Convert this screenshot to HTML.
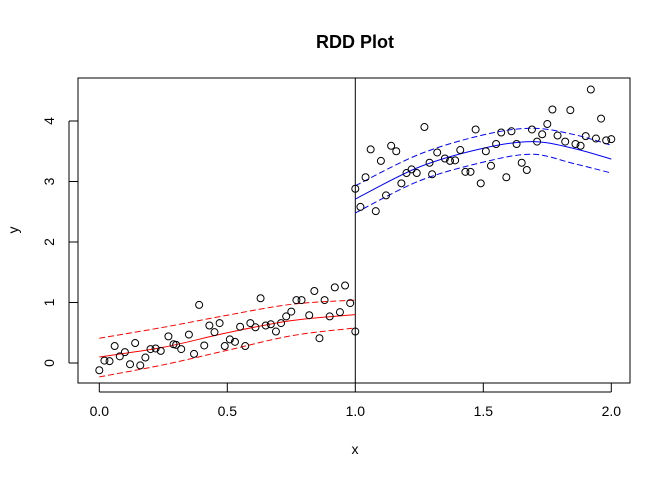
<!DOCTYPE html>
<html><head><meta charset="utf-8"><style>
body{margin:0;background:#fff;}
svg text{font-family:"Liberation Sans",Arial,sans-serif;}
</style></head><body>
<svg id="chart" width="672" height="480" xmlns="http://www.w3.org/2000/svg">
<text x="355" y="48" text-anchor="middle" font-size="18" font-weight="bold">RDD Plot</text>
<text x="355" y="454" text-anchor="middle" font-size="14">x</text>
<text transform="translate(18,230) rotate(-90)" text-anchor="middle" font-size="14">y</text>
<rect x="78" y="78" width="552" height="305" fill="none" stroke="#000" stroke-width="1"/>
<g id="axes"></g><g id="marks"></g>
</svg>
<script>
const xTicks=[0,0.5,1,1.5,2];
const xTickLabels=["0.0","0.5","1.0","1.5","2.0"];
const yTicks=[0,1,2,3,4];
const yTickLabels=["0","1","2","3","4"];
const leftX=[0,0.02,0.04,0.06,0.08,0.10,0.12,0.14,0.16,0.18,0.20,0.22,0.24,0.27,0.29,0.30,0.32,0.35,0.37,0.39,0.41,0.43,0.45,0.47,0.49,0.51,0.53,0.55,0.57,0.59,0.61,0.63,0.65,0.67,0.69,0.71,0.73,0.75,0.77,0.79,0.82,0.84,0.86,0.88,0.90,0.92,0.94,0.96,0.98,1.00];
const leftY=[-0.12,0.04,0.03,0.28,0.11,0.18,-0.02,0.33,-0.04,0.09,0.23,0.24,0.20,0.44,0.31,0.30,0.23,0.47,0.15,0.96,0.29,0.62,0.51,0.66,0.28,0.39,0.35,0.60,0.28,0.66,0.59,1.07,0.62,0.64,0.52,0.66,0.77,0.85,1.04,1.04,0.79,1.19,0.41,1.04,0.77,1.25,0.84,1.28,0.99,0.52];
const rightX=[1.00,1.02,1.04,1.06,1.08,1.10,1.12,1.14,1.16,1.18,1.20,1.22,1.24,1.27,1.29,1.30,1.32,1.35,1.37,1.39,1.41,1.43,1.45,1.47,1.49,1.51,1.53,1.55,1.57,1.59,1.61,1.63,1.65,1.67,1.69,1.71,1.73,1.75,1.77,1.79,1.82,1.84,1.86,1.88,1.90,1.92,1.94,1.96,1.98,2.00];
const rightY=[2.88,2.58,3.07,3.53,2.51,3.34,2.77,3.59,3.50,2.97,3.14,3.20,3.14,3.90,3.31,3.12,3.48,3.38,3.34,3.35,3.52,3.16,3.16,3.86,2.97,3.50,3.26,3.62,3.81,3.07,3.83,3.62,3.31,3.19,3.86,3.66,3.78,3.95,4.19,3.76,3.66,4.18,3.62,3.59,3.75,4.52,3.71,4.04,3.68,3.70];
const redFitX=[0,0.25,0.5,0.75,1];
const redFit=[0.10,0.26,0.50,0.70,0.80];
const redUpper=[0.41,0.59,0.79,0.97,1.04];
const redLower=[-0.23,-0.03,0.21,0.45,0.58];
const blueFitX=[1,1.25,1.5,1.69,1.85,2];
const blueFit=[2.71,3.24,3.55,3.66,3.55,3.37];
const blueUpper=[2.93,3.45,3.77,3.88,3.78,3.60];
const blueLower=[2.48,3.01,3.32,3.45,3.30,3.14];

const NS="http://www.w3.org/2000/svg";
const sx=v=>99.3+v*256;
const sy=v=>363-v*60.5;
const axes=document.getElementById('axes'), marks=document.getElementById('marks');
function mk(tag,attrs,parent){const e=document.createElementNS(NS,tag);for(const k in attrs)e.setAttribute(k,attrs[k]);parent.appendChild(e);return e;}
let xl=mk('line',{x1:sx(xTicks[0]),x2:sx(xTicks[xTicks.length-1]),y1:392,y2:392,stroke:'#000'},axes);


xTicks.forEach((t,i)=>{
 const l=mk('line',{x1:sx(t),x2:sx(t),y1:383,y2:392,stroke:'#000'},axes);
 
 
 const tx=mk('text',{x:sx(t),y:416,'text-anchor':'middle','font-size':'14'},axes);
 tx.textContent=xTickLabels[i];
 
 
});
let yl=mk('line',{x1:69,x2:69,y1:sy(yTicks[0]),y2:sy(yTicks[yTicks.length-1]),stroke:'#000'},axes);


yTicks.forEach((t,i)=>{
 const l=mk('line',{x1:69,x2:78,y1:sy(t),y2:sy(t),stroke:'#000'},axes);
 
 
 const tx=mk('text',{transform:`translate(54,${sy(t)}) rotate(-90)`,'text-anchor':'middle','font-size':'14'},axes);
 tx.textContent=yTickLabels[i];
 
 
});
const cut=mk('line',{x1:sx(1),x2:sx(1),y1:78,y2:383,stroke:'#000'},axes);


function smooth(xs,ys){
 const p=xs.map((x,i)=>[sx(x),sy(ys[i])]);
 let d=`M${p[0][0]},${p[0][1]}`;
 for(let i=0;i<p.length-1;i++){
  const p0=p[i-1]||p[i],p1=p[i],p2=p[i+1],p3=p[i+2]||p2;
  const c1=[p1[0]+(p2[0]-p0[0])/6,p1[1]+(p2[1]-p0[1])/6];
  const c2=[p2[0]-(p3[0]-p1[0])/6,p2[1]-(p3[1]-p1[1])/6];
  d+=` C${c1[0]},${c1[1]} ${c2[0]},${c2[1]} ${p2[0]},${p2[1]}`;
 }
 return d;
}
function curve(xs,ys,color,dash,name){
 const a={d:smooth(xs,ys),fill:'none',stroke:color,'stroke-width':1};
 if(dash)a['stroke-dasharray']='6,3';
 const e=mk('path',a,marks);
 
 
}
curve(redFitX,redFit,'#ff0000',false,'left-fit-line');
curve(redFitX,redUpper,'#ff0000',true,'left-upper-ci');
curve(redFitX,redLower,'#ff0000',true,'left-lower-ci');
curve(blueFitX,blueFit,'#0000ff',false,'right-fit-line');
curve(blueFitX,blueUpper,'#0000ff',true,'right-upper-ci');
curve(blueFitX,blueLower,'#0000ff',true,'right-lower-ci');
function pts(xs,ys,name){
 xs.forEach((x,i)=>{
  const c=mk('circle',{cx:sx(x),cy:sy(ys[i]),r:3.5,fill:'none',stroke:'#000','stroke-width':1},marks);
  
  
 });
}
pts(leftX,leftY,'left-point');
pts(rightX,rightY,'right-point');
</script>
</body></html>
